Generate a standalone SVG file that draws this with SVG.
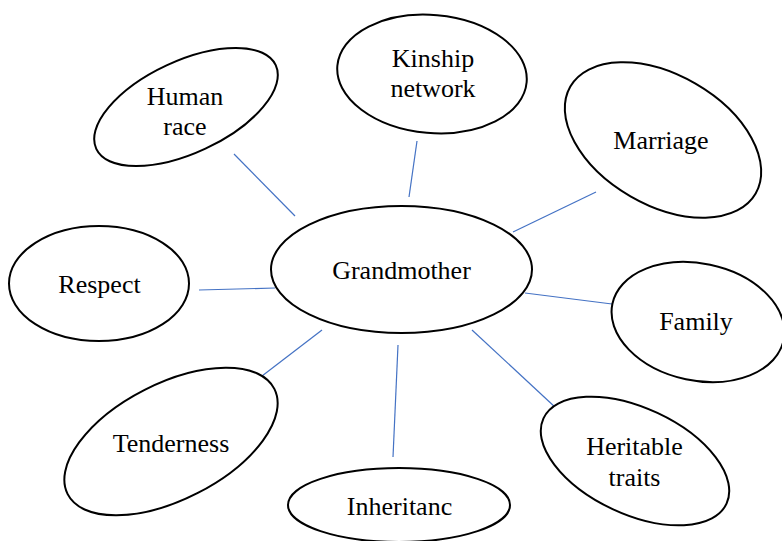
<svg xmlns="http://www.w3.org/2000/svg" width="782" height="541" viewBox="0 0 782 541">
<style>
.node ellipse{fill:#fff;stroke:#000;stroke-width:2}
.node text{font-family:"Liberation Serif","Times New Roman",serif;font-size:26px;fill:#000;text-anchor:middle}
.links line{stroke:#4472C4;stroke-width:1.2}
</style>
<rect width="782" height="541" fill="#fff"/>
<g class="links" id="connectors">
<line x1="234" y1="154" x2="295" y2="216"/>
<line x1="417" y1="141" x2="409" y2="197"/>
<line x1="596" y1="192" x2="513" y2="232"/>
<line x1="199" y1="290" x2="275" y2="288"/>
<line x1="525" y1="293" x2="612" y2="304"/>
<line x1="322" y1="330" x2="262" y2="376"/>
<line x1="398" y1="345" x2="393" y2="457"/>
<line x1="472" y1="330" x2="556" y2="408"/>
</g>
<g class="node" id="grandmother">
<ellipse cx="401.5" cy="269.5" rx="130.5" ry="63.5"/>
<text x="401.5" y="279">Grandmother</text>
</g>
<g class="node" id="human-race">
<ellipse cx="186" cy="107" rx="99" ry="46" transform="rotate(-25 186 107)"/>
<text x="185" y="105">Human</text>
<text x="185" y="135">race</text>
</g>
<g class="node" id="kinship">
<ellipse cx="432" cy="74" rx="95" ry="59" transform="rotate(5 432 74)"/>
<text x="433" y="67">Kinship</text>
<text x="433" y="97">network</text>
</g>
<g class="node" id="marriage">
<ellipse cx="663" cy="140" rx="107" ry="65" transform="rotate(30 663 140)"/>
<text x="661" y="149">Marriage</text>
</g>
<g class="node" id="respect">
<ellipse cx="99" cy="283.5" rx="90" ry="57.5"/>
<text x="99.5" y="293">Respect</text>
</g>
<g class="node" id="family">
<ellipse cx="698" cy="322" rx="87.5" ry="58.5" transform="rotate(12 698 322)"/>
<text x="696" y="330">Family</text>
</g>
<g class="node" id="tenderness">
<ellipse cx="171" cy="441.5" rx="116" ry="58" transform="rotate(-27 171 441.5)"/>
<text x="171" y="452">Tenderness</text>
</g>
<g class="node" id="inheritance">
<ellipse cx="399" cy="505" rx="111" ry="37"/>
<text x="399.5" y="515">Inheritanc</text>
</g>
<g class="node" id="heritable-traits">
<ellipse cx="635" cy="461" rx="101" ry="53" transform="rotate(25 635 461)"/>
<text x="634.5" y="455">Heritable</text>
<text x="634.5" y="486">traits</text>
</g>
</svg>
